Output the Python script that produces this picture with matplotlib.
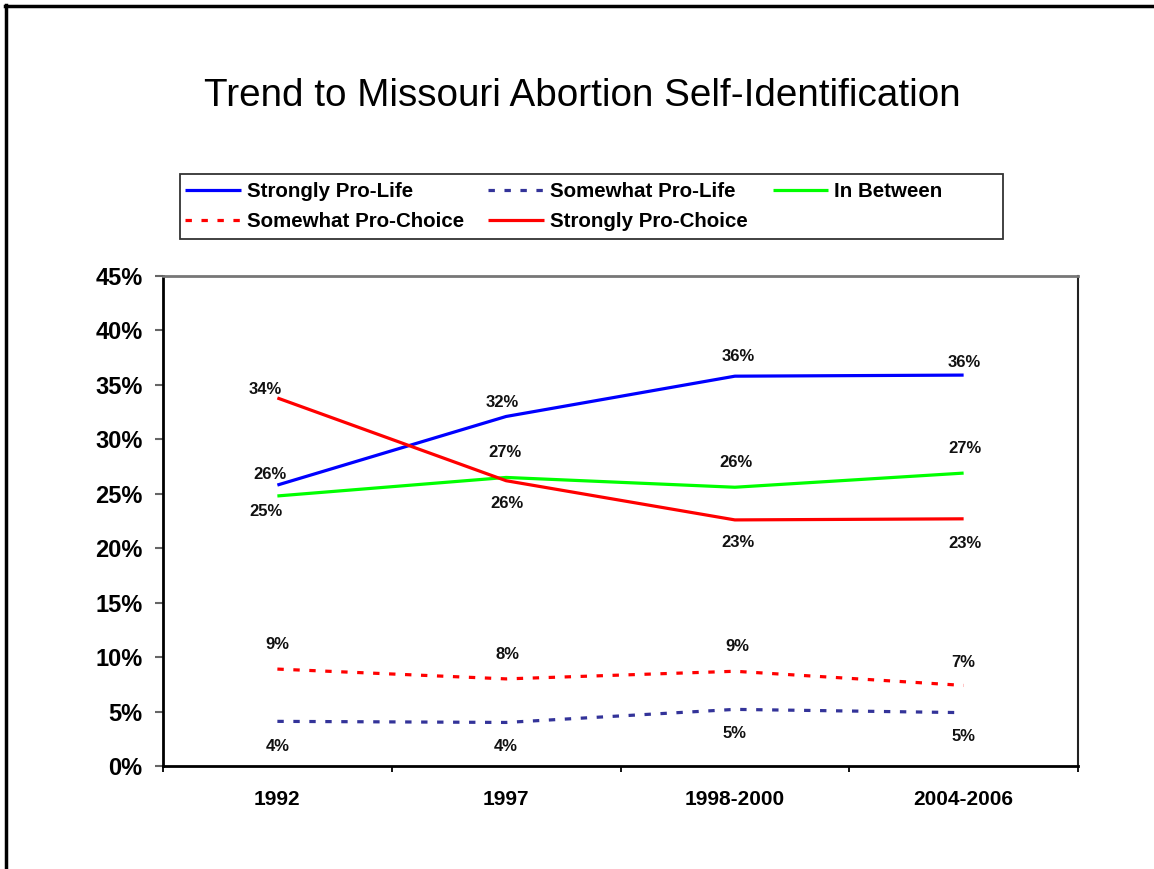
import matplotlib
matplotlib.use("Agg")
import matplotlib.pyplot as plt
from matplotlib.lines import Line2D
from matplotlib.patches import Rectangle
from matplotlib.ticker import FixedLocator, PercentFormatter

plt.rcParams['font.family'] = ['Liberation Sans', 'DejaVu Sans']

categories = ["1992", "1997", "1998-2000", "2004-2006"]
strongly_pro_life = [25.8, 32.1, 35.8, 35.9]
somewhat_pro_life = [4.1, 4.0, 5.2, 4.9]
in_between = [24.8, 26.5, 25.6, 26.9]
somewhat_pro_choice = [8.9, 8.0, 8.7, 7.4]
strongly_pro_choice = [33.8, 26.2, 22.6, 22.7]

spl_labels = ["26%", "32%", "36%", "36%"]
sopl_labels = ["4%", "4%", "5%", "5%"]
ib_labels = ["25%", "27%", "26%", "27%"]
sopc_labels = ["9%", "8%", "9%", "7%"]
stpc_labels = ["34%", "26%", "23%", "23%"]

W, H = 1154, 869
fig = plt.figure(figsize=(W / 100, H / 100), dpi=100)
ax = fig.add_axes([163 / W, 1 - 766 / H, (1078 - 163) / W, (766 - 276) / H])

x = list(range(len(categories)))
lw = 2.3
series = [
    ("Strongly Pro-Life", strongly_pro_life, "#0000FF", "-", spl_labels,
     [(-7, 11), (-4, 14), (3, 20), (1, 13)]),
    ("Somewhat Pro-Life", somewhat_pro_life, "#333399", (0, (2, 3)), sopl_labels,
     [(0, -25), (0, -24), (0, -24), (0, -24)]),
    ("In Between", in_between, "#00FF00", "-", ib_labels,
     [(-11, -16), (-1, 25), (1, 25), (1, 25)]),
    ("Somewhat Pro-Choice", somewhat_pro_choice, "#FF0000", (0, (2, 3)), sopc_labels,
     [(0, 25), (1, 24), (2, 25), (0, 23)]),
    ("Strongly Pro-Choice", strongly_pro_choice, "#FF0000", "-", stpc_labels,
     [(-12, 8), (1, -23), (3, -23), (1, -25)]),
]

handles = {}
for name, vals, color, ls, labs, offs in series:
    ln, = ax.plot(x, vals, color=color, linestyle=ls, linewidth=lw,
                  solid_capstyle='butt', dash_capstyle='butt', label=name)
    handles[name] = ln
    for xi, v, lab, (dx, dy) in zip(x, vals, labs, offs):
        ax.annotate(lab, (xi, v), xytext=(dx, dy), textcoords='offset pixels',
                    ha='center', va='center', fontsize=12, fontweight='bold',
                    color='#111111')

ax.set_xlim(-0.5, 3.5)
ax.set_ylim(0, 45)
ax.yaxis.set_major_locator(FixedLocator([0, 5, 10, 15, 20, 25, 30, 35, 40, 45]))
ax.yaxis.set_major_formatter(PercentFormatter(decimals=0))
ax.set_xticks(x)
ax.set_xticklabels(categories)
ax.set_xticks([-0.5, 0.5, 1.5, 2.5, 3.5], minor=True)
ax.tick_params(axis='x', which='major', length=0, pad=17.5, labelsize=15)
ax.tick_params(axis='x', which='minor', length=4.5, width=1.3, color='black', direction='out')
ax.tick_params(axis='y', which='major', length=5.8, width=1.5, color='#666666',
               direction='out', pad=9.0, labelsize=17)
for lab in ax.get_xticklabels() + ax.get_yticklabels():
    lab.set_fontweight('bold')

ax.spines['left'].set_linewidth(2)
ax.spines['left'].set_color('black')
ax.spines['bottom'].set_linewidth(2)
ax.spines['bottom'].set_color('black')
ax.spines['top'].set_linewidth(2)
ax.spines['top'].set_color('#777777')
ax.spines['right'].set_linewidth(1.5)
ax.spines['right'].set_color('#222222')

# legend frame
fig.add_artist(Rectangle((180 / W, 1 - 239 / H), (1003 - 180) / W, (239 - 174) / H,
                         transform=fig.transFigure, facecolor='white',
                         edgecolor='#333333', linewidth=1.3, zorder=1))

order = ["Strongly Pro-Life", "Somewhat Pro-Choice", "Somewhat Pro-Life",
         "Strongly Pro-Choice", "In Between"]
leg = fig.legend([handles[n] for n in order], order, ncol=3,
                 loc='center left', bbox_to_anchor=(185 / W, 1 - 206.5 / H),
                 frameon=False,
                 prop={'weight': 'bold', 'size': 14.8}, handlelength=2.7,
                 handletextpad=0.3, columnspacing=1.2, labelspacing=0.55,
                 borderpad=0.0, borderaxespad=0)
leg.set_zorder(2)

fig.text(582 / W, 1 - 96 / H, "Trend to Missouri Abortion Self-Identification",
         ha='center', va='center', fontsize=27.8, color='black')

fig.add_artist(Line2D([5 / W, 1], [1 - 6 / H, 1 - 6 / H], transform=fig.transFigure,
                      color='black', linewidth=2.5))
fig.add_artist(Line2D([6 / W, 6 / W], [0, 1 - 5 / H], transform=fig.transFigure,
                      color='black', linewidth=2.5))

fig.savefig("out.png", dpi=100)
